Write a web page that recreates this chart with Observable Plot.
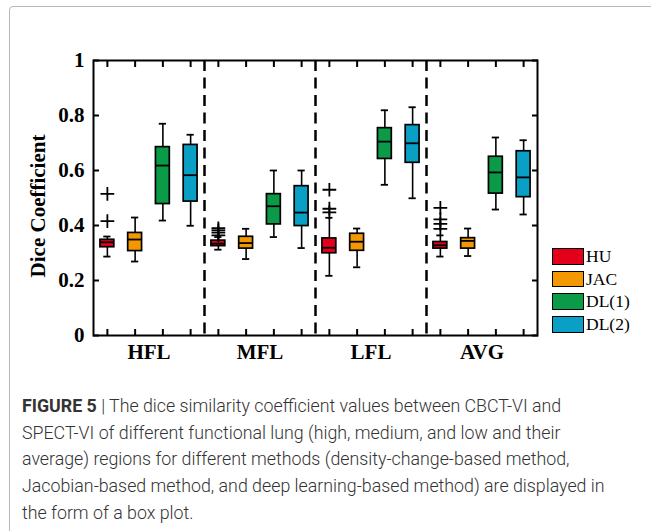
<!DOCTYPE html>
<html><head><meta charset="utf-8">
<script src="https://cdn.jsdelivr.net/npm/d3@7"></script>
<script src="https://cdn.jsdelivr.net/npm/@observablehq/plot@0.6"></script>
<style>
body{margin:0;background:#fff;overflow:hidden;}
#wrap{position:relative;width:651px;height:531px;overflow:hidden;background:#fff;}
#frame{position:absolute;left:9px;top:6px;width:700px;height:600px;border:1.5px solid #b8b8b8;border-radius:4px;}
#chart{position:absolute;left:0;top:0;}
#legend{position:absolute;left:552px;top:245px;font-family:"Liberation Serif","Times New Roman",serif;font-size:17.5px;color:#000;}
.item{display:flex;align-items:center;height:22.7px;}
.sw{width:30px;height:14.5px;border:1.7px solid #000;margin-right:2px;box-sizing:content-box;}
#caption{position:absolute;left:22px;top:393px;font-family:"Roboto","Liberation Sans",sans-serif;font-weight:300;font-size:17.8px;line-height:26.7px;color:#333;white-space:nowrap;}
#caption b{font-weight:700;color:#333;}
</style>
</head><body>
<div id="wrap">
<div id="frame"></div>
<div id="chart"></div>
<div id="legend"></div>
<div id="caption">
<div><b>FIGURE 5</b> | The dice similarity coefficient values between CBCT-VI and</div>
<div>SPECT-VI of different functional lung (high, medium, and low and their</div>
<div>average) regions for different methods (density-change-based method,</div>
<div>Jacobian-based method, and deep learning-based method) are displayed in</div>
<div>the form of a box plot.</div>
</div>
</div>
<script>
const groups = ["HFL", "MFL", "LFL", "AVG"];
const groupLabelPos = [2.5, 6.5, 10.5, 14.5];
const methods = ["HU", "JAC", "DL(1)", "DL(2)"];
const colors = ["#e3001b", "#f39800", "#0a9a48", "#0a9fc4"];
const yTicks = [0, 0.2, 0.4, 0.6, 0.8, 1];
const separators = [4.5, 8.5, 12.5];
// each box: [lower whisker, q1, median, q3, upper whisker], order HU, JAC, DL(1), DL(2)
const HFL = [[0.287, 0.321, 0.339, 0.348, 0.360], [0.269, 0.307, 0.349, 0.373, 0.429], [0.418, 0.478, 0.618, 0.685, 0.770], [0.399, 0.487, 0.583, 0.693, 0.730]];
const MFL = [[0.312, 0.325, 0.334, 0.345, 0.358], [0.278, 0.316, 0.336, 0.359, 0.388], [0.358, 0.404, 0.470, 0.514, 0.600], [0.318, 0.398, 0.447, 0.543, 0.600]];
const LFL = [[0.217, 0.299, 0.319, 0.353, 0.428], [0.248, 0.308, 0.341, 0.370, 0.389], [0.548, 0.642, 0.705, 0.754, 0.819], [0.499, 0.628, 0.699, 0.765, 0.830]];
const AVG = [[0.287, 0.316, 0.328, 0.340, 0.364], [0.289, 0.316, 0.344, 0.354, 0.389], [0.458, 0.516, 0.593, 0.650, 0.720], [0.440, 0.503, 0.575, 0.670, 0.710]];
// outliers (only HU has them)
const outHFL = [[0.416, 0.515], [], [], []];
const outMFL = [[0.364, 0.374, 0.382, 0.390], [], [], []];
const outLFL = [[0.448, 0.461, 0.530], [], [], []];
const outAVG = [[0.388, 0.406, 0.422, 0.464], [], [], []];

const stats = [HFL, MFL, LFL, AVG];
const outs = [outHFL, outMFL, outLFL, outAVG];
const rows = [];
const outRows = [];
stats.forEach((g, gi) => g.forEach((s, mi) => {
  const pos = gi * methods.length + mi + 1;
  rows.push({pos, method: methods[mi], lo: s[0], q1: s[1], med: s[2], q3: s[3], hi: s[4]});
  outs[gi][mi].forEach(v => outRows.push({pos, v}));
}));
const positions = rows.map(d => d.pos);
const labelRows = groups.map((g, i) => ({pos: groupLabelPos[i], label: g}));
const hw = 0.25, cap = 0.13;

const chart = Plot.plot({
  width: 651, height: 378,
  marginLeft: 93, marginRight: 114, marginTop: 60, marginBottom: 43,
  style: {fontFamily: "'Liberation Serif','Times New Roman',serif", fontWeight: "bold", color: "#000", background: "transparent"},
  x: {domain: [0.5, 16.5]},
  y: {domain: [0, 1]},
  color: {domain: methods, range: colors},
  marks: [
    Plot.ruleX(separators, {stroke: "#000", strokeWidth: 2.5, strokeDasharray: "11,6.5"}),
    Plot.ruleX(rows, {x: "pos", y1: "lo", y2: "q1", stroke: "#000", strokeWidth: 1.6}),
    Plot.ruleX(rows, {x: "pos", y1: "q3", y2: "hi", stroke: "#000", strokeWidth: 1.6}),
    Plot.ruleY(rows, {y: "lo", x1: d => d.pos - cap, x2: d => d.pos + cap, stroke: "#000", strokeWidth: 1.8}),
    Plot.ruleY(rows, {y: "hi", x1: d => d.pos - cap, x2: d => d.pos + cap, stroke: "#000", strokeWidth: 1.8}),
    Plot.rect(rows, {x1: d => d.pos - hw, x2: d => d.pos + hw, y1: "q1", y2: "q3", fill: "method", stroke: "#000", strokeWidth: 1.7}),
    Plot.ruleY(rows, {y: "med", x1: d => d.pos - hw, x2: d => d.pos + hw, stroke: "#000", strokeWidth: 1.8}),
    Plot.dot(outRows, {x: "pos", y: "v", symbol: "plus", r: 4.5, stroke: "#000", strokeWidth: 1.8}),
    Plot.frame({stroke: "#000", strokeWidth: 2}),
    Plot.axisY(yTicks, {anchor: "left", tickSize: -6, tickPadding: 15, strokeWidth: 2, fontSize: 21, fontWeight: "bold", label: null, tickFormat: d => (d === 0 || d === 1) ? String(d) : d.toFixed(1)}),
    Plot.axisY(yTicks, {anchor: "right", tickSize: -6, strokeWidth: 2, tickFormat: () => "", label: null}),
    Plot.axisX(positions, {anchor: "top", tickSize: -6, strokeWidth: 2, tickFormat: () => "", label: null}),
    Plot.axisX(positions, {anchor: "bottom", tickSize: -6, strokeWidth: 2, tickFormat: () => "", label: null}),
    Plot.text(labelRows, {x: "pos", text: "label", frameAnchor: "bottom", dy: 23, fontSize: 21, fontWeight: "bold", fill: "#000"}),
    Plot.text(["Dice Coefficient"], {frameAnchor: "left", textAnchor: "middle", dx: -55, dy: 8, rotate: -90, fontSize: 21, fontWeight: "bold", fill: "#000"})
  ]
});
document.getElementById("chart").appendChild(chart);

const legend = document.getElementById("legend");
methods.forEach((m, i) => {
  const item = document.createElement("div");
  item.className = "item";
  const sw = document.createElement("div");
  sw.className = "sw";
  sw.style.background = colors[i];
  const t = document.createElement("span");
  t.textContent = m;
  item.appendChild(sw); item.appendChild(t);
  legend.appendChild(item);
});
</script>
</body></html>
